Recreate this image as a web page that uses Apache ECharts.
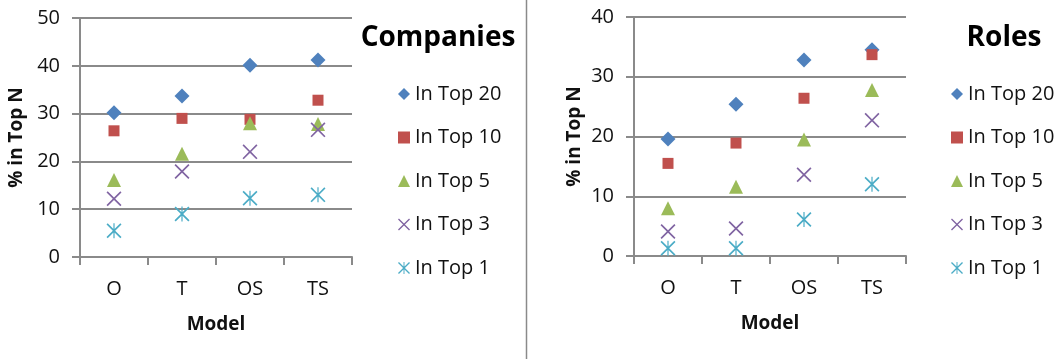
<!DOCTYPE html>
<html>
<head>
<meta charset="utf-8">
<script src="https://cdn.jsdelivr.net/npm/echarts@6/dist/echarts.min.js"></script>
<style>
html,body{margin:0;padding:0;background:#fff;}
#c{width:1059px;height:359px;}
</style>
</head>
<body>
<div id="c"></div>
<script>
const categories = ['O', 'T', 'OS', 'TS'];
const seriesNames = ['In Top 20', 'In Top 10', 'In Top 5', 'In Top 3', 'In Top 1'];

const companiesTop20 = [30.2, 33.7, 40.1, 41.2];
const companiesTop10 = [26.4, 29.0, 28.8, 32.8];
const companiesTop5  = [16.1, 21.6, 28.0, 27.8];
const companiesTop3  = [12.2, 17.9, 22.0, 26.6];
const companiesTop1  = [5.5, 9.0, 12.3, 13.0];

const rolesTop20 = [19.6, 25.4, 32.8, 34.5];
const rolesTop10 = [15.5, 18.9, 26.4, 33.7];
const rolesTop5  = [8.0, 11.6, 19.5, 27.8];
const rolesTop3  = [4.1, 4.6, 13.6, 22.7];
const rolesTop1  = [1.3, 1.3, 6.1, 12.0];

const companiesTicks = [0, 10, 20, 30, 40, 50];
const rolesTicks = [0, 10, 20, 30, 40];

const companiesData = [companiesTop20, companiesTop10, companiesTop5, companiesTop3, companiesTop1];
const rolesData = [rolesTop20, rolesTop10, rolesTop5, rolesTop3, rolesTop1];

const colors = ['#4F81BD', '#C0504D', '#9BBB59', '#8064A2', '#4BACC6'];
const X_PATH = 'path://M0,8L8,0L50,42L92,0L100,8L58,50L100,92L92,100L50,58L8,100L0,92L42,50Z';
const STAR_PATH = 'path://M0,8L8,0L50,42L92,0L100,8L58,50L100,92L92,100L50,58L8,100L0,92L42,50ZM46,0L54,0L54,100L46,100Z';
const symbols = ['diamond', 'rect', 'triangle', X_PATH, STAR_PATH];
const sizes = [15, 11, 14, 15, 15];

const FONT = '"Open Sans", "Liberation Sans", sans-serif';
const GRAY = '#8a8a8a';
const TEXT = '#111';

function makeAxes(idx, ticks) {
  const xAxis = {
    type: 'category', gridIndex: idx, data: categories,
    boundaryGap: true,
    axisLine: {show: true, lineStyle: {color: GRAY, width: 2}},
    axisTick: {show: true, length: 8, lineStyle: {color: GRAY, width: 2}},
    axisLabel: {color: TEXT, fontSize: 20, fontFamily: FONT, margin: 22},
    splitLine: {show: false},
    name: 'Model', nameLocation: 'middle', nameGap: 58,
    nameTextStyle: {color: TEXT, fontSize: 19, fontWeight: 'bold', fontFamily: FONT}
  };
  const yAxis = {
    type: 'value', gridIndex: idx, min: ticks[0], max: ticks[ticks.length - 1], interval: 10,
    axisLine: {show: true, lineStyle: {color: GRAY, width: 2}},
    axisTick: {show: true, length: 8, lineStyle: {color: GRAY, width: 2}},
    axisLabel: {color: TEXT, fontSize: 20, fontFamily: FONT, margin: 20},
    splitLine: {show: true, lineStyle: {color: GRAY, width: 2}},
    name: '% in Top N', nameLocation: 'middle', nameGap: idx === 0 ? 54 : 50,
    nameTextStyle: {color: TEXT, fontSize: 19, fontWeight: 'bold', fontFamily: FONT}
  };
  return [xAxis, yAxis];
}

const [x0, y0] = makeAxes(0, companiesTicks);
const [x1, y1] = makeAxes(1, rolesTicks);

const series = [];
[companiesData, rolesData].forEach((set, gi) => {
  set.forEach((vals, si) => {
    series.push({
      type: 'scatter', name: seriesNames[si],
      xAxisIndex: gi, yAxisIndex: gi,
      data: vals,
      symbol: symbols[si], symbolSize: sizes[si],
      itemStyle: {color: colors[si], opacity: 1},
      emphasis: {disabled: true},
      z: 2 + si
    });
  });
});

function legendData() {
  return seriesNames.map((n, i) => ({name: n, icon: symbols[i]}));
}

const legendCommon = {
  orient: 'vertical', itemWidth: 12, itemHeight: 12, itemGap: 23.5,
  textStyle: {color: TEXT, fontSize: 20, fontFamily: FONT, lineHeight: 20},
  selectedMode: false
};

const option = {
  animation: false,
  grid: [
    {left: 80, top: 18, width: 272, height: 239},
    {left: 634, top: 17, width: 272, height: 239}
  ],
  xAxis: [x0, x1],
  yAxis: [y0, y1],
  legend: [
    Object.assign({}, legendCommon, {left: 393, top: 79, data: legendData()}),
    Object.assign({}, legendCommon, {left: 946, top: 79, data: legendData()})
  ],
  graphic: [
    {type: 'text', x: 438, y: 38, style: {text: 'Companies', fill: '#000', fontSize: 28, fontWeight: 'bold', fontFamily: FONT, align: 'center', verticalAlign: 'middle'}},
    {type: 'text', x: 1004, y: 38, style: {text: 'Roles', fill: '#000', fontSize: 28, fontWeight: 'bold', fontFamily: FONT, align: 'center', verticalAlign: 'middle'}},
    {type: 'line', shape: {x1: 526.5, y1: 0, x2: 526.5, y2: 359}, style: {stroke: '#8a8a8a', lineWidth: 1.5}}
  ],
  series: series
};

const chart = echarts.init(document.getElementById('c'), null, {renderer: 'canvas'});
chart.setOption(option);
</script>
</body>
</html>
